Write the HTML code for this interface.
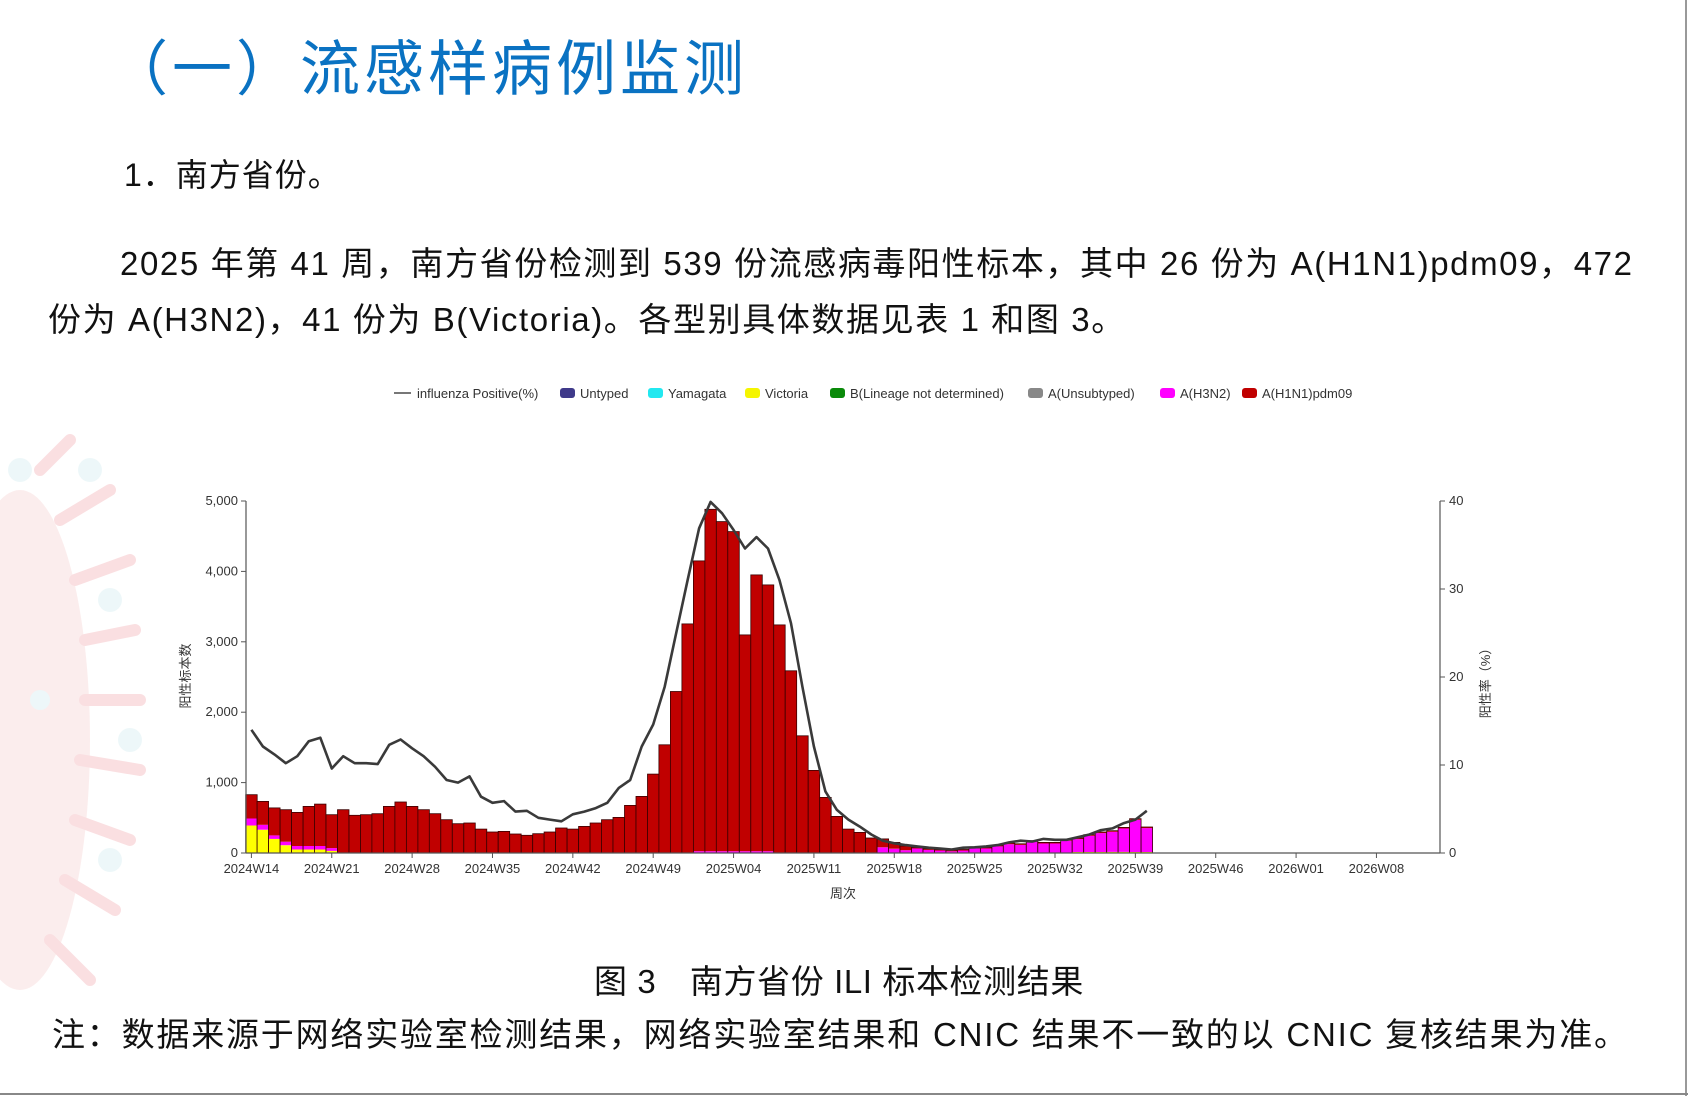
<!DOCTYPE html>
<html><head><meta charset="utf-8">
<style>
html,body{margin:0;padding:0;background:#fff;}
body{width:1688px;height:1096px;position:relative;overflow:hidden;font-family:"Liberation Sans","Noto Sans CJK SC",sans-serif;color:#111;}
.t{position:absolute;white-space:nowrap;}
</style></head><body>
<svg width="1688" height="1096" style="position:absolute;left:0;top:0" id="bg">
 <g opacity="0.28">
  <ellipse cx="20" cy="740" rx="70" ry="250" fill="#f3c2c2"/>
  <g stroke="#ef8f96" stroke-width="12" stroke-linecap="round">
   <line x1="60" y1="520" x2="110" y2="490"/><line x1="75" y1="580" x2="130" y2="560"/>
   <line x1="85" y1="640" x2="135" y2="630"/><line x1="85" y1="700" x2="140" y2="700"/>
   <line x1="80" y1="760" x2="140" y2="770"/><line x1="75" y1="820" x2="130" y2="840"/>
   <line x1="65" y1="880" x2="115" y2="910"/><line x1="50" y1="940" x2="90" y2="980"/>
   <line x1="40" y1="470" x2="70" y2="440"/>
  </g>
  <g fill="#bfe4ea"><circle cx="110" cy="600" r="12"/><circle cx="130" cy="740" r="12"/><circle cx="90" cy="470" r="12"/><circle cx="110" cy="860" r="12"/><circle cx="20" cy="470" r="12"/><circle cx="40" cy="700" r="10"/></g>
 </g>
 <line x1="1686" y1="0" x2="1686" y2="1096" stroke="#999" stroke-width="2"/>
 <line x1="0" y1="1094" x2="1688" y2="1094" stroke="#888" stroke-width="2"/>
</svg>

<div class="t" style="left:108px;top:28px;font-size:60px;color:#0a72c2;line-height:74px;letter-spacing:4px;font-family:'Noto Sans CJK SC',sans-serif;">（一）流感样病例监测</div>
<div class="t" style="left:124px;top:155px;font-size:32px;line-height:40px;letter-spacing:1px;">1．南方省份。</div>
<div class="t" style="left:120px;top:244px;font-size:33px;line-height:40px;letter-spacing:1.6px;">2025 年第 41 周，南方省份检测到 539 份流感病毒阳性标本，其中 26 份为 A(H1N1)pdm09，472</div>
<div class="t" style="left:48px;top:300px;font-size:33px;line-height:40px;letter-spacing:1.6px;">份为 A(H3N2)，41 份为 B(Victoria)。各型别具体数据见表 1 和图 3。</div>
<div class="t" style="left:594px;top:962px;font-size:33px;line-height:40px;letter-spacing:0.6px;">图 3　南方省份 ILI 标本检测结果</div>
<div class="t" style="left:52px;top:1015px;font-size:33px;line-height:40px;letter-spacing:1.8px;">注：数据来源于网络实验室检测结果，网络实验室结果和 CNIC 结果不一致的以 CNIC 复核结果为准。</div>

<svg width="1688" height="1096" style="position:absolute;left:0;top:0" id="ch" font-family="'Liberation Sans','Noto Sans CJK SC',sans-serif"></svg>
<script>
var svg=document.getElementById('ch');
var h='';
var X0=251.4,W=11.48,Y0=853,YT=501,LX=246,RX=1440;
function yc(v){return Y0-(v/5000)*(Y0-YT);}
function yp(v){return Y0-(v/40)*(Y0-YT);}
var tot=[828,733,640,615,577,662,695,544,615,535,544,558,662,724,662,615,558,473,416,426,340,298,307,270,251,274,298,355,340,378,426,473,506,676,804,1121,1537,2294,3254,4149,4882,4707,4565,3098,3950,3808,3240,2588,1665,1173,790,520,340,293,213,200,150,100,80,60,50,40,50,80,80,110,140,130,175,150,150,190,213,260,298,317,364,487,369];
var pct=[14.0,12.1,11.2,10.2,11.0,12.7,13.1,9.6,11.0,10.2,10.2,10.1,12.3,12.9,11.9,11.0,9.8,8.3,8.0,8.7,6.4,5.7,5.9,4.7,4.8,4.0,3.8,3.6,4.4,4.7,5.1,5.7,7.4,8.3,12.1,14.6,18.9,25.0,31.0,36.9,39.9,38.6,36.7,34.6,35.9,34.6,31.0,26.1,18.9,12.1,7.0,4.9,3.8,3.0,2.1,1.4,1.1,0.9,0.75,0.6,0.5,0.4,0.6,0.65,0.75,0.9,1.2,1.4,1.3,1.6,1.5,1.5,1.8,2.1,2.6,2.8,3.4,3.8,4.8];
var yel={0:390,1:330,2:200,3:110,4:50,5:50,6:50,7:30};
var mag={0:100,1:70,2:50,3:50,4:50,5:50,6:50,7:40};
for(var i=0;i<tot.length;i++){
 var x=X0+i*W-W/2, t=tot[i], segs=[];
 if(i<55){
  var yy=yel[i]||(i>56?10:0), mm=mag[i]||(i>38&&i<46?25:5);
  segs=[['#ffff00',yy],['#ff00ff',mm],['#c00000',t-yy-mm]];
 } else {
  var red=Math.max(10,i<58?t*0.6:15), yy2=i>71?15:3;
  segs=[['#ffff00',yy2],['#ff00ff',t-red-yy2],['#c00000',red]];
 }
 var base=0;
 for(var s=0;s<segs.length;s++){var v=segs[s][1];if(v<=0)continue;
  h+='<rect x="'+x.toFixed(1)+'" y="'+yc(base+v).toFixed(1)+'" width="'+W.toFixed(2)+'" height="'+(yc(base)-yc(base+v)).toFixed(1)+'" fill="'+segs[s][0]+'"/>';base+=v;}
 h+='<rect x="'+x.toFixed(1)+'" y="'+yc(t).toFixed(1)+'" width="'+W.toFixed(2)+'" height="'+(Y0-yc(t)).toFixed(1)+'" fill="none" stroke="#3a0000" stroke-width="0.8"/>';
}
var pts=pct.map(function(v,i){return (X0+i*W).toFixed(1)+','+yp(v).toFixed(1)}).join(' ');
h+='<polyline points="'+pts+'" fill="none" stroke="#3a3a3a" stroke-width="2.6" stroke-linejoin="round"/>';
h+='<line x1="'+LX+'" y1="'+YT+'" x2="'+LX+'" y2="'+Y0+'" stroke="#555" stroke-width="1.2"/>';
h+='<line x1="'+RX+'" y1="'+YT+'" x2="'+RX+'" y2="'+Y0+'" stroke="#555" stroke-width="1.2"/>';
h+='<line x1="'+LX+'" y1="'+Y0+'" x2="'+RX+'" y2="'+Y0+'" stroke="#555" stroke-width="1.2"/>';
var ll=['0','1,000','2,000','3,000','4,000','5,000'];
for(var k=0;k<=5;k++){var y=yc(k*1000);h+='<line x1="'+(LX-5)+'" y1="'+y+'" x2="'+LX+'" y2="'+y+'" stroke="#555"/><text x="'+(LX-8)+'" y="'+(y+4)+'" font-size="13" text-anchor="end" fill="#333">'+ll[k]+'</text>';}
for(var k=0;k<=4;k++){var y=yp(k*10);h+='<line x1="'+RX+'" y1="'+y+'" x2="'+(RX+5)+'" y2="'+y+'" stroke="#555"/><text x="'+(RX+9)+'" y="'+(y+4)+'" font-size="13" fill="#333">'+(k*10)+'</text>';}
var xl=['2024W14','2024W21','2024W28','2024W35','2024W42','2024W49','2025W04','2025W11','2025W18','2025W25','2025W32','2025W39','2025W46','2026W01','2026W08'];
for(var k=0;k<xl.length;k++){var x=X0+k*7*W;h+='<line x1="'+x+'" y1="'+Y0+'" x2="'+x+'" y2="'+(Y0+5)+'" stroke="#555"/><text x="'+x+'" y="'+(Y0+20)+'" font-size="13" text-anchor="middle" fill="#333">'+xl[k]+'</text>';}
h+='<text x="843" y="898" font-size="13" text-anchor="middle" fill="#333">周次</text>';
h+='<text transform="translate(190,676) rotate(-90)" font-size="13" text-anchor="middle" fill="#333">阳性标本数</text>';
h+='<text transform="translate(1490,680) rotate(-90)" font-size="13" text-anchor="middle" fill="#333">阳性率（%）</text>';
h+='<line x1="394" y1="393" x2="411" y2="393" stroke="#777" stroke-width="2"/><text x="417" y="398" font-size="13" fill="#333">influenza Positive(%)</text>';
var lg=[[560,'#3f3a8a','Untyped'],[648,'#22e8f0','Yamagata'],[745,'#f5f500','Victoria'],[830,'#0a8a0a','B(Lineage not determined)'],[1028,'#888888','A(Unsubtyped)'],[1160,'#ff00ff','A(H3N2)'],[1242,'#c00000','A(H1N1)pdm09']];
lg.forEach(function(l){h+='<rect x="'+l[0]+'" y="388" width="15" height="10" rx="3" fill="'+l[1]+'"/><text x="'+(l[0]+20)+'" y="398" font-size="13" fill="#333">'+l[2]+'</text>';});
svg.innerHTML=h;
</script>
</body></html>
